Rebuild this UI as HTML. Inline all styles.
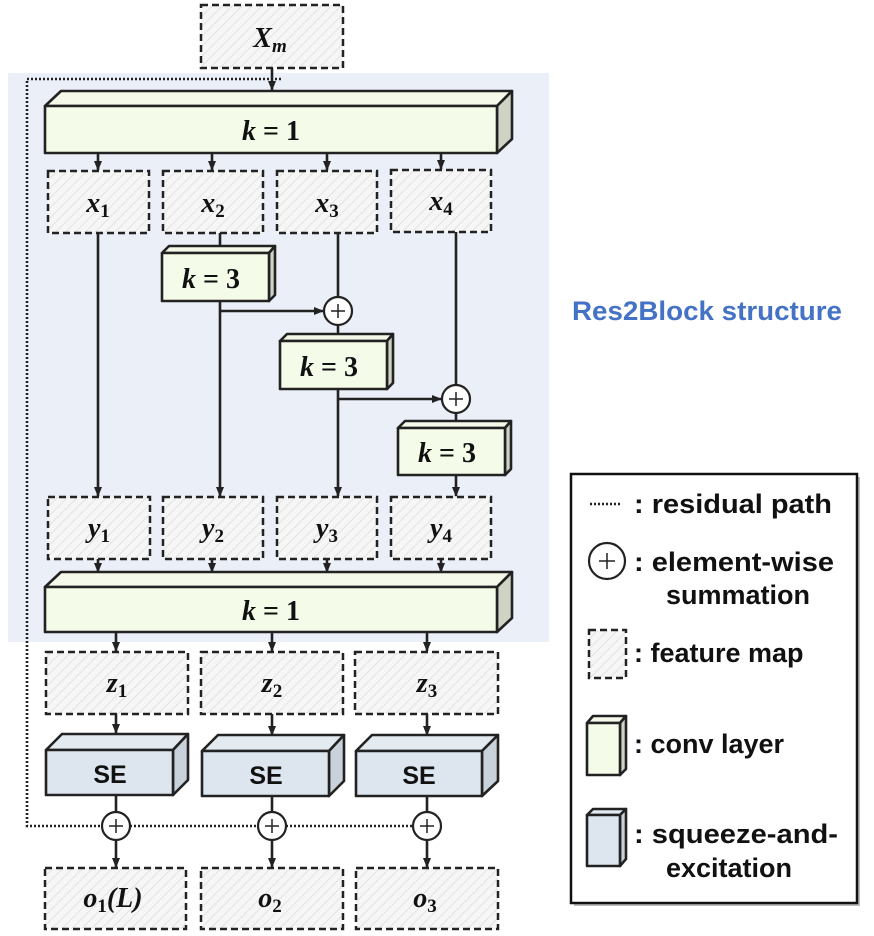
<!DOCTYPE html>
<html><head><meta charset="utf-8"><style>
html,body{margin:0;padding:0;background:#fff;}
svg{display:block}
.m{font-family:"Liberation Serif",serif;font-weight:bold;font-style:italic;font-size:28px;}
.n{font-family:"Liberation Serif",serif;font-weight:bold;font-style:normal;}
.sub{font-family:"Liberation Serif",serif;font-weight:bold;font-style:normal;font-size:19px;}
.t{font-family:"Liberation Sans",sans-serif;font-weight:bold;font-size:27px;}
.se{font-family:"Liberation Sans",sans-serif;font-weight:bold;font-size:25px;}
</style></head><body>
<svg width="874" height="936" viewBox="0 0 874 936" xmlns="http://www.w3.org/2000/svg">
<defs>
<pattern id="h" width="7" height="7" patternUnits="userSpaceOnUse" patternTransform="rotate(45)">
<rect width="7" height="7" fill="#f6f6f6"/><line x1="0" y1="0" x2="0" y2="7" stroke="#dcdcdc" stroke-width="1.5"/>
</pattern>
<marker id="a" markerWidth="10" markerHeight="10" refX="9" refY="5" orient="auto" markerUnits="userSpaceOnUse">
<path d="M0,1 L10,5 L0,9 Z" fill="#222"/>
</marker>
</defs>
<rect x="8" y="73" width="541" height="569" fill="#ebf0f8"/>
<rect x="574" y="477" width="286" height="429" fill="#bbb"/>
<rect x="571" y="474" width="286" height="429" fill="#fff" stroke="#111" stroke-width="2.5"/>
<g fill="url(#h)" stroke="#222" stroke-width="2.5" stroke-dasharray="7,4">
<rect x="201" y="5" width="142" height="63"/>
<rect x="48" y="171" width="101" height="62"/>
<rect x="163" y="171" width="100" height="62"/>
<rect x="277" y="171" width="100" height="62"/>
<rect x="391" y="170" width="100" height="62"/>
<rect x="48" y="497" width="102" height="62"/>
<rect x="163" y="497" width="100" height="62"/>
<rect x="277" y="497" width="100" height="62"/>
<rect x="391" y="497" width="100" height="62"/>
<rect x="46" y="652" width="142" height="62"/>
<rect x="201" y="652" width="142" height="62"/>
<rect x="355" y="652" width="143" height="62"/>
<rect x="45" y="868" width="141" height="61"/>
<rect x="201" y="868" width="142" height="61"/>
<rect x="356" y="868" width="142" height="61"/>
<rect x="589" y="630" width="37" height="48"/>
</g>
<g stroke="#222" stroke-width="2.6" fill="none">
<line x1="272" y1="68" x2="272" y2="90" marker-end="url(#a)"/>
<line x1="98" y1="153" x2="98" y2="170" marker-end="url(#a)"/>
<line x1="212" y1="153" x2="212" y2="170" marker-end="url(#a)"/>
<line x1="327" y1="153" x2="327" y2="170" marker-end="url(#a)"/>
<line x1="441" y1="153" x2="441" y2="169" marker-end="url(#a)"/>
<line x1="98" y1="233" x2="98" y2="496" marker-end="url(#a)"/>
<line x1="220" y1="233" x2="220" y2="246"/>
<line x1="220" y1="301" x2="220" y2="496" marker-end="url(#a)"/>
<line x1="220" y1="311" x2="323" y2="311" marker-end="url(#a)"/>
<line x1="338" y1="233" x2="338" y2="297"/>
<line x1="338" y1="325" x2="338" y2="334"/>
<line x1="338" y1="389" x2="338" y2="496" marker-end="url(#a)"/>
<line x1="338" y1="399" x2="441" y2="399" marker-end="url(#a)"/>
<line x1="456" y1="232" x2="456" y2="385"/>
<line x1="456" y1="413" x2="456" y2="421"/>
<line x1="456" y1="475" x2="456" y2="496" marker-end="url(#a)"/>
<line x1="98" y1="559" x2="98" y2="572" marker-end="url(#a)"/>
<line x1="212" y1="559" x2="212" y2="572" marker-end="url(#a)"/>
<line x1="327" y1="559" x2="327" y2="572" marker-end="url(#a)"/>
<line x1="441" y1="559" x2="441" y2="572" marker-end="url(#a)"/>
<line x1="116" y1="632" x2="116" y2="651" marker-end="url(#a)"/>
<line x1="272" y1="632" x2="272" y2="651" marker-end="url(#a)"/>
<line x1="427" y1="632" x2="427" y2="651" marker-end="url(#a)"/>
<line x1="116" y1="714" x2="116" y2="733" marker-end="url(#a)"/>
<line x1="272" y1="714" x2="272" y2="735" marker-end="url(#a)"/>
<line x1="427" y1="714" x2="427" y2="735" marker-end="url(#a)"/>
<line x1="116" y1="795" x2="116" y2="812"/>
<line x1="272" y1="796" x2="272" y2="812"/>
<line x1="427" y1="796" x2="427" y2="812"/>
<line x1="116" y1="840" x2="116" y2="867" marker-end="url(#a)"/>
<line x1="272" y1="840" x2="272" y2="867" marker-end="url(#a)"/>
<line x1="427" y1="840" x2="427" y2="867" marker-end="url(#a)"/>
</g>
<g stroke="#222" stroke-width="2.6" fill="none" stroke-dasharray="2,2">
<polyline points="281,79 27,79 27,826 102,826"/>
<line x1="130" y1="826" x2="258" y2="826"/>
<line x1="286" y1="826" x2="413" y2="826"/>
<line x1="590" y1="504" x2="622" y2="504"/>
</g>
<g stroke="#222" stroke-width="2.6" stroke-linejoin="round">
<polygon points="45,106 61,91 512,91 497,106" fill="#f4f9ea"/>
<polygon points="497,106 512,91 512,139 497,153" fill="#cfd3c4"/>
<rect x="45" y="106" width="452" height="47" fill="#f4fbe9"/>
<polygon points="45,587 61,572 512,572 497,587" fill="#f4f9ea"/>
<polygon points="497,587 512,572 512,618 497,632" fill="#cfd3c4"/>
<rect x="45" y="587" width="452" height="45" fill="#f4fbe9"/>
<polygon points="162,253 169,246 275,246 269,253" fill="#f4f9ea"/>
<polygon points="269,253 275,246 275,295 269,301" fill="#cfd3c4"/>
<rect x="162" y="253" width="107" height="48" fill="#f4fbe9"/>
<polygon points="280,341 287,334 393,334 387,341" fill="#f4f9ea"/>
<polygon points="387,341 393,334 393,383 387,389" fill="#cfd3c4"/>
<rect x="280" y="341" width="107" height="48" fill="#f4fbe9"/>
<polygon points="398,428 405,421 511,421 505,428" fill="#f4f9ea"/>
<polygon points="505,428 511,421 511,469 505,475" fill="#cfd3c4"/>
<rect x="398" y="428" width="107" height="47" fill="#f4fbe9"/>
<polygon points="46,750 62,734 188,734 173,750" fill="#e3eaf0"/>
<polygon points="173,750 188,734 188,780 173,795" fill="#c9d2da"/>
<rect x="46" y="750" width="127" height="45" fill="#dde6ee"/>
<polygon points="202,751 218,735 344,735 329,751" fill="#e3eaf0"/>
<polygon points="329,751 344,735 344,781 329,796" fill="#c9d2da"/>
<rect x="202" y="751" width="127" height="45" fill="#dde6ee"/>
<polygon points="356,751 372,735 498,735 482,751" fill="#e3eaf0"/>
<polygon points="482,751 498,735 498,781 482,796" fill="#c9d2da"/>
<rect x="356" y="751" width="126" height="45" fill="#dde6ee"/>
<polygon points="587,723 593,716 626,716 620,723" fill="#f4f9ea"/>
<polygon points="620,723 626,716 626,769 620,775" fill="#cfd3c4"/>
<rect x="587" y="723" width="33" height="52" fill="#f4fbe9"/>
<polygon points="587,815 593,809 626,809 620,815" fill="#e3eaf0"/>
<polygon points="620,815 626,809 626,859 620,866" fill="#c9d2da"/>
<rect x="587" y="815" width="33" height="51" fill="#dde6ee"/>
</g>
<g stroke="#222" stroke-width="2.2" fill="#fff">
<circle cx="338" cy="311" r="14"/><circle cx="456" cy="399" r="14"/>
<circle cx="116" cy="826" r="14"/><circle cx="272" cy="826" r="14"/><circle cx="427" cy="826" r="14"/>
<circle cx="607" cy="561" r="18"/>
</g>
<g stroke="#222" stroke-width="1.5">
<path d="M331,311h14M338,304v14"/><path d="M449,399h14M456,392v14"/>
<path d="M109,826h14M116,819v14"/><path d="M265,826h14M272,819v14"/><path d="M420,826h14M427,819v14"/>
<path d="M599,561h16M607,553v16"/>
</g>
<g fill="#111" text-anchor="middle">
<text x="270" y="47" class="m">X<tspan class="sub" style="font-style:italic" dy="5">m</tspan></text>
<text x="271" y="140" class="m">k <tspan class="n">= 1</tspan></text>
<text x="271" y="620" class="m">k <tspan class="n">= 1</tspan></text>
<text x="211" y="288" class="m">k <tspan class="n">= 3</tspan></text>
<text x="329" y="376" class="m">k <tspan class="n">= 3</tspan></text>
<text x="447" y="462" class="m">k <tspan class="n">= 3</tspan></text>
<text x="98" y="212" class="m">x<tspan class="sub" dy="5">1</tspan></text>
<text x="213" y="212" class="m">x<tspan class="sub" dy="5">2</tspan></text>
<text x="327" y="212" class="m">x<tspan class="sub" dy="5">3</tspan></text>
<text x="441" y="210" class="m">x<tspan class="sub" dy="5">4</tspan></text>
<text x="99" y="537" class="m">y<tspan class="sub" dy="5">1</tspan></text>
<text x="213" y="537" class="m">y<tspan class="sub" dy="5">2</tspan></text>
<text x="327" y="537" class="m">y<tspan class="sub" dy="5">3</tspan></text>
<text x="441" y="537" class="m">y<tspan class="sub" dy="5">4</tspan></text>
<text x="117" y="692" class="m">z<tspan class="sub" dy="5">1</tspan></text>
<text x="272" y="692" class="m">z<tspan class="sub" dy="5">2</tspan></text>
<text x="427" y="692" class="m">z<tspan class="sub" dy="5">3</tspan></text>
<text x="113" y="907" class="m">o<tspan class="sub" dy="5">1</tspan><tspan dy="-5">(L)</tspan></text>
<text x="270" y="907" class="m">o<tspan class="sub" dy="5">2</tspan></text>
<text x="425" y="907" class="m">o<tspan class="sub" dy="5">3</tspan></text>
<text x="110" y="783" class="se">SE</text>
<text x="266" y="784" class="se">SE</text>
<text x="419" y="784" class="se">SE</text>
</g>
<text x="572" y="320" class="t" fill="#4472c4" textLength="270" lengthAdjust="spacingAndGlyphs">Res2Block structure</text>
<g class="t" fill="#111">
<text x="634" y="513" textLength="198" lengthAdjust="spacingAndGlyphs">: residual path</text>
<text x="634" y="571" textLength="200" lengthAdjust="spacingAndGlyphs">: element-wise</text>
<text x="666" y="604">summation</text>
<text x="634" y="662">: feature map</text>
<text x="634" y="753">: conv layer</text>
<text x="634" y="843" textLength="204" lengthAdjust="spacingAndGlyphs">: squeeze-and-</text>
<text x="666" y="877">excitation</text>
</g>
</svg>
</body></html>
